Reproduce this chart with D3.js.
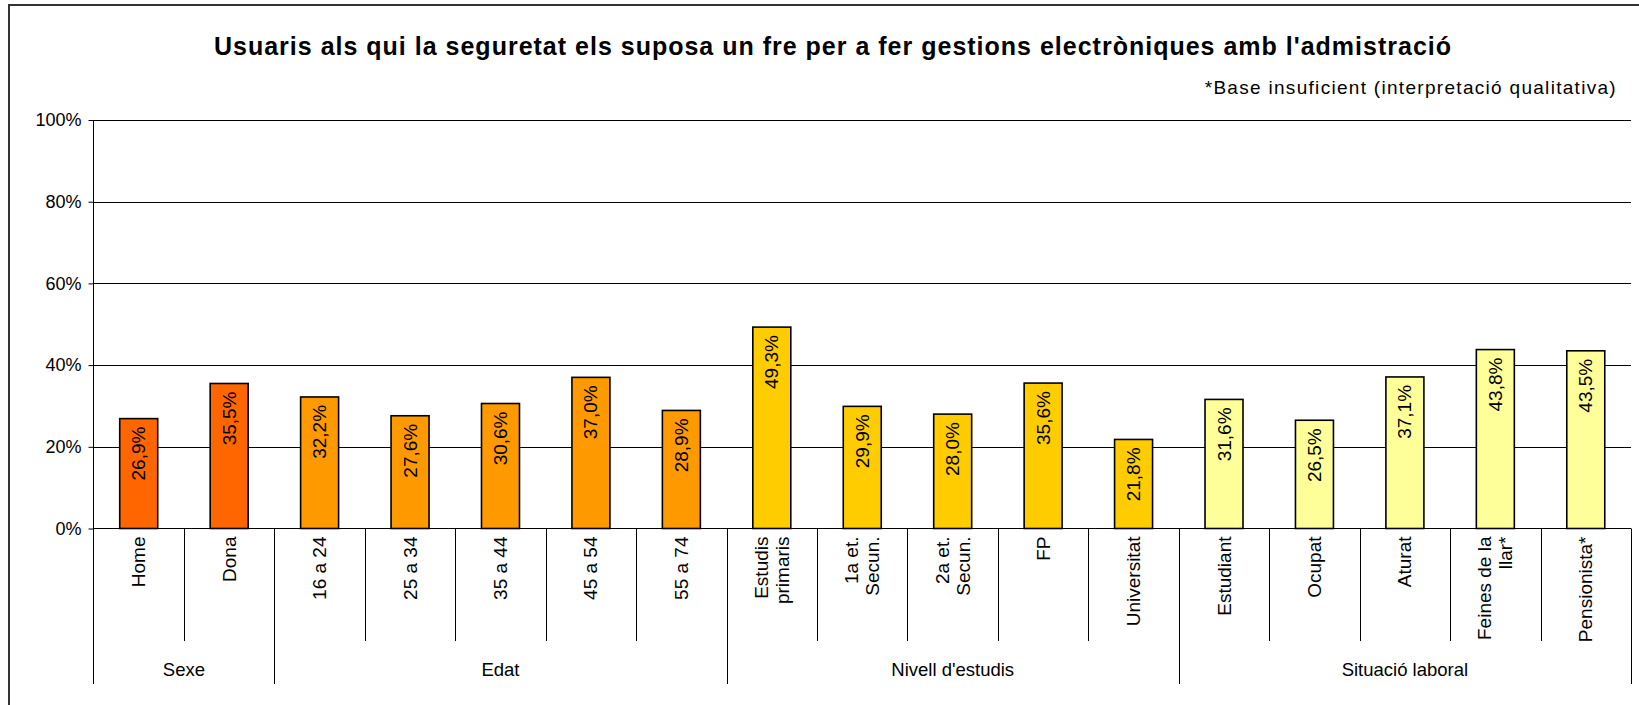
<!DOCTYPE html>
<html>
<head>
<meta charset="utf-8">
<script src="https://cdn.jsdelivr.net/npm/d3@7"></script>
<style>
  html, body { margin: 0; padding: 0; background: #fff; }
  svg { display: block; font-family: "Liberation Sans", Arial, sans-serif; }
</style>
</head>
<body>
<svg id="chart" width="1639" height="705"></svg>
<script>
const title = "Usuaris als qui la seguretat els suposa un fre per a fer gestions electròniques amb l'admistració";
const subtitle = "*Base insuficient (interpretació qualitativa)";
const categories = [
  ["Home"], ["Dona"],
  ["16 a 24"], ["25 a 34"], ["35 a 44"], ["45 a 54"], ["55 a 74"],
  ["Estudis", "primaris"], ["1a et.", "Secun."], ["2a et.", "Secun."], ["FP"], ["Universitat"],
  ["Estudiant"], ["Ocupat"], ["Aturat"], ["Feines de la", "llar*"], ["Pensionista*"]
];
const values = [26.9, 35.5, 32.2, 27.6, 30.6, 37.0, 28.9, 49.3, 29.9, 28.0, 35.6, 21.8, 31.6, 26.5, 37.1, 43.8, 43.5];
const groupNames = ["Sexe", "Edat", "Nivell d'estudis", "Situació laboral"];
const groupSizes = [2, 5, 5, 5];
const groupColors = ["#FF6600", "#FF9900", "#FFCC00", "#FFFF99"];
const yTicks = [0, 20, 40, 60, 80, 100];

(function () {
const svg = d3.select("#chart");
const pLeft = 93.5, pRight = 1631, pTop = 120, pBottom = 528.5;

// outer border
svg.append("rect").attr("x", 9).attr("y", 5).attr("width", 1700).attr("height", 800)
  .attr("fill", "#fff").attr("stroke", "#333").attr("stroke-width", 2);

const idx = categories.map((d, i) => i);
const x = d3.scaleBand().domain(idx).range([pLeft, pRight]).padding(0);
const y = d3.scaleLinear().domain([0, 100]).range([pBottom, pTop]);
const barW = x.bandwidth() * 0.42;

const groupOf = [];
groupSizes.forEach((n, g) => { for (let k = 0; k < n; k++) groupOf.push(g); });

const loc = d3.formatLocale({decimal: ",", thousands: ".", grouping: [3], currency: ["", "€"]});
const fmt = loc.format(".1f");

// gridlines
svg.append("g").selectAll("line").data(yTicks.filter(t => t > 0)).join("line")
  .attr("x1", pLeft).attr("x2", pRight)
  .attr("y1", d => Math.round(y(d)) + 0.5).attr("y2", d => Math.round(y(d)) + 0.5)
  .attr("stroke", "#000").attr("stroke-width", 1);

// y axis
const yAxis = d3.axisLeft(y).tickValues(yTicks).tickSize(5).tickPadding(7).tickFormat(d => d + "%");
const yg = svg.append("g").attr("transform", `translate(${pLeft},0)`).call(yAxis);
yg.select(".domain").remove();
yg.selectAll(".tick line").attr("stroke", "#000");
yg.selectAll(".tick text").attr("font-size", 18).attr("fill", "#000")
  .attr("font-family", "Liberation Sans, Arial, sans-serif");
svg.append("line").attr("x1", pLeft).attr("x2", pLeft).attr("y1", pTop).attr("y2", 684)
  .attr("stroke", "#000").attr("stroke-width", 1);

// x axis baseline
svg.append("line").attr("x1", pLeft).attr("x2", pRight).attr("y1", pBottom).attr("y2", pBottom)
  .attr("stroke", "#000").attr("stroke-width", 1);

// separators
const boundaries = d3.range(1, categories.length + 1);
const groupEnds = Array.from(d3.cumsum(groupSizes));
svg.append("g").selectAll("line").data(boundaries).join("line")
  .attr("x1", d => Math.round(pLeft + d * x.step()) + 0.5)
  .attr("x2", d => Math.round(pLeft + d * x.step()) + 0.5)
  .attr("y1", pBottom)
  .attr("y2", d => groupEnds.includes(d) ? 684 : 641)
  .attr("stroke", "#000").attr("stroke-width", 1);

// bars
svg.append("g").selectAll("rect").data(values).join("rect")
  .attr("x", (d, i) => x(i) + (x.bandwidth() - barW) / 2)
  .attr("width", barW)
  .attr("y", d => y(d))
  .attr("height", d => y(0) - y(d))
  .attr("fill", (d, i) => groupColors[groupOf[i]])
  .attr("stroke", "#000").attr("stroke-width", 1.6);

// value labels
svg.append("g").selectAll("text").data(values).join("text")
  .attr("transform", (d, i) => `translate(${x(i) + x.bandwidth() / 2},${y(d) + 8}) rotate(-90)`)
  .attr("text-anchor", "end").attr("dominant-baseline", "central")
  .attr("font-size", 19).attr("fill", "#000")
  .text(d => fmt(d) + "%");

// category labels
const catG = svg.append("g");
categories.forEach((lines, i) => {
  const cx = x(i) + x.bandwidth() / 2;
  lines.forEach((ln, j) => {
    const dx = (j - (lines.length - 1) / 2) * 21;
    catG.append("text")
      .attr("transform", `translate(${cx + dx},${pBottom + 8}) rotate(-90)`)
      .attr("text-anchor", "end").attr("dominant-baseline", "central")
      .attr("font-size", 19).attr("fill", "#000")
      .text(ln);
  });
});

// group labels
const groupStarts = [0].concat(groupEnds.slice(0, -1));
svg.append("g").selectAll("text").data(groupNames).join("text")
  .attr("x", (d, g) => pLeft + (groupStarts[g] + groupSizes[g] / 2) * x.step())
  .attr("y", 669)
  .attr("text-anchor", "middle").attr("dominant-baseline", "central")
  .attr("font-size", 18.5).attr("fill", "#000")
  .text(d => d);

// title
svg.append("text").attr("x", 833).attr("y", 46)
  .attr("text-anchor", "middle").attr("dominant-baseline", "central")
  .attr("font-size", 25).attr("letter-spacing", 1).attr("font-weight", "bold").attr("fill", "#000")
  .text(title);
svg.append("text").attr("x", 1617).attr("y", 87)
  .attr("text-anchor", "end").attr("dominant-baseline", "central")
  .attr("font-size", 19).attr("letter-spacing", 1.3).attr("fill", "#000")
  .text(subtitle);
})();
</script>
</body>
</html>
